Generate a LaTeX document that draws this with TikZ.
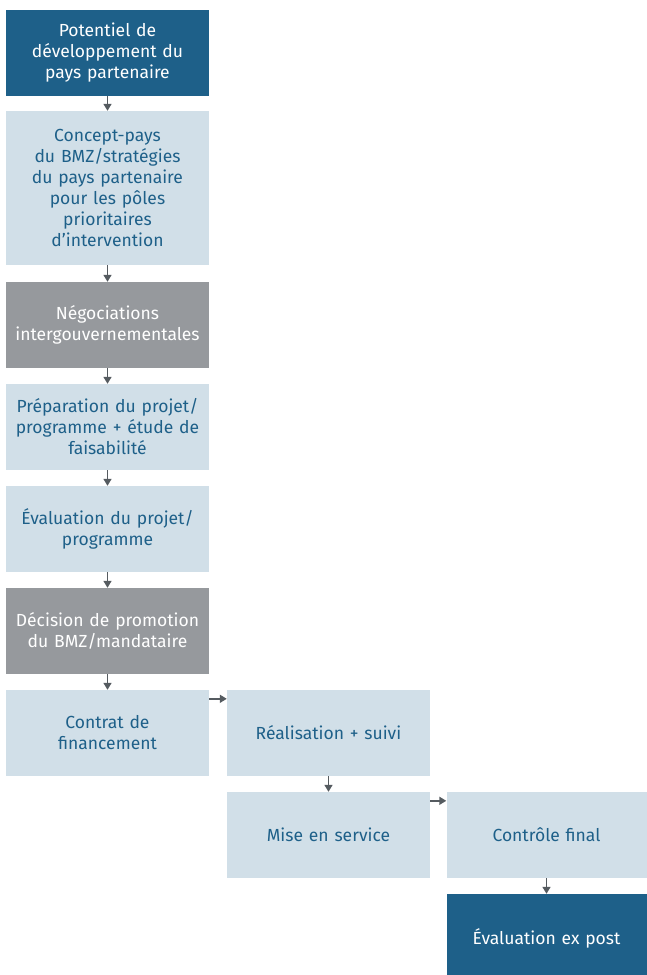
\documentclass[tikz,border=0pt]{standalone}
\usepackage{fontspec}
\setmainfont{Fira Sans}
\usetikzlibrary{arrows.meta}
\definecolor{dblue}{HTML}{1E6089}
\definecolor{lblue}{HTML}{D1DFE8}
\definecolor{gbox}{HTML}{96999D}
\definecolor{arr}{HTML}{555B60}
\tikzset{
  box/.style={rectangle, inner sep=0pt, align=center, text width=200pt,
    font=\fontsize{17.5}{21}\selectfont, minimum width=203pt},
  darkbox/.style={box, fill=dblue, text=white},
  lightbox/.style={box, fill=lblue, text=dblue},
  graybox/.style={box, fill=gbox, text=white},
  conn/.style={draw=arr, line width=1.6pt, -{Triangle[width=8pt,length=7pt]}}
}
\begin{document}
\begin{tikzpicture}[x=1pt,y=-1pt]
\useasboundingbox (0,0) rectangle (646,975);
\node[darkbox, minimum height=86pt] (b1) at (107.5,53) {Potentiel de\\développement du\\pays partenaire};
\node[lightbox, minimum height=154pt] (b2) at (107.5,188) {Concept-pays\\du BMZ/stratégies\\du pays partenaire\\pour les pôles\\prioritaires\\d’intervention};
\node[graybox, minimum height=86pt] (b3) at (107.5,325) {Négociations\\intergouvernementales};
\node[lightbox, minimum height=86pt] (b4) at (107.5,427) {Préparation du projet/\\programme + étude de\\faisabilité};
\node[lightbox, minimum height=86pt] (b5) at (107.5,529) {Évaluation du projet/\\programme};
\node[graybox, minimum height=86pt] (b6) at (107.5,631) {Décision de promotion\\du BMZ/mandataire};
\node[lightbox, minimum height=86pt] (b7) at (107.5,733) {Contrat de\\financement};
\node[lightbox, minimum height=86pt] (b8) at (328.5,733) {Réalisation + suivi};
\node[lightbox, minimum height=86pt] (b9) at (328.5,835) {Mise en service};
\node[lightbox, minimum width=199pt, minimum height=86pt] (b10) at (546.5,835) {Contrôle final};
\node[darkbox, minimum width=199pt, minimum height=88pt] (b11) at (546.5,938) {Évaluation ex post};
\draw[conn] (b1.south) -- (b2.north);
\draw[conn] (b2.south) -- (b3.north);
\draw[conn] (b3.south) -- (b4.north);
\draw[conn] (b4.south) -- (b5.north);
\draw[conn] (b5.south) -- (b6.north);
\draw[conn] (b6.south) -- (b7.north);
\draw[conn] ([yshift=-9pt]b7.north east) -- ([yshift=-9pt]b8.north west);
\draw[conn] (b8.south) -- (b9.north);
\draw[conn] ([yshift=-9pt]b9.north east) -- ([yshift=-9pt]b10.north west);
\draw[conn] (b10.south) -- (b11.north);
\end{tikzpicture}
\end{document}
